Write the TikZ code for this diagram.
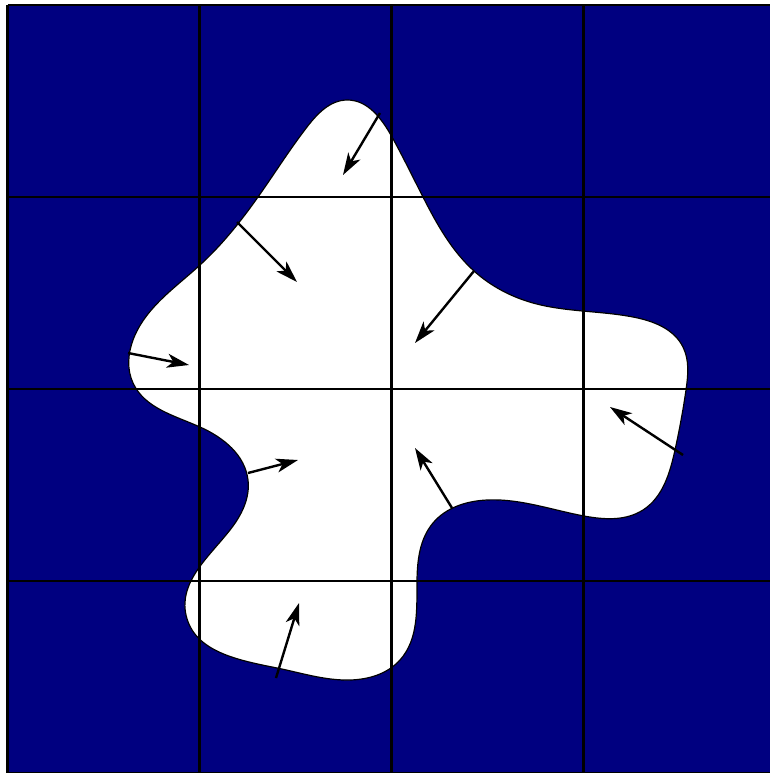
\documentclass[tikz,border=0pt]{standalone}
\usetikzlibrary{arrows.meta,hobby}
\definecolor{navyfill}{RGB}{0,0,128}
\tikzset{
  gridline/.style={line width=2.6pt, black},
  blobstyle/.style={fill=white, draw=black, line width=1.2pt},
  vecarrow/.style={line width=2.4pt, -{Stealth[length=22pt,width=14pt,inset=6pt]}},
}
\begin{document}
\begin{tikzpicture}[x=1pt,y=-1pt]
\useasboundingbox (0,0) rectangle (770,773);
\clip (0,0) rectangle (770,773);
% background grid fill
\fill[navyfill] (7.5,5) rectangle (776.5,773);
% blob
\draw[blobstyle, use Hobby shortcut, closed=true]
(347,100) .. (392,137) .. (423,197) .. (474,271) .. (533,303)
.. (633,317) .. (683,347) .. (686,390) .. (675,450)
.. (643,510) .. (584,516) .. (487,500)
.. (433,523) .. (417,581) .. (400,660) .. (350,680)
.. (277,668) .. (186,615) .. (230,530) .. (248,480)
.. (200,427) .. (133,383) .. (133,340) .. (200,265) .. (258,197)
.. (307,127);
% grid lines
\foreach \k in {0,1,2,3,4} {
  \draw[gridline] (7.5+192*\k,5) -- (7.5+192*\k,773);
  \draw[gridline] (7.5,5+192*\k) -- (776.5,5+192*\k);
}
% arrows
\coordinate (a1s) at (380,113); \coordinate (a1e) at (343,175);
\coordinate (a2s) at (237,222); \coordinate (a2e) at (297,282);
\coordinate (a3s) at (474,271); \coordinate (a3e) at (415,343);
\coordinate (a4s) at (128,353); \coordinate (a4e) at (189,365);
\coordinate (a5s) at (248,473); \coordinate (a5e) at (298,460);
\coordinate (a6s) at (683,455); \coordinate (a6e) at (610,407);
\coordinate (a7s) at (452,508); \coordinate (a7e) at (415,448);
\coordinate (a8s) at (276,678); \coordinate (a8e) at (299,603);
\foreach \i in {1,...,8} {
  \draw[vecarrow] (a\i s) -- (a\i e);
}
\end{tikzpicture}
\end{document}
